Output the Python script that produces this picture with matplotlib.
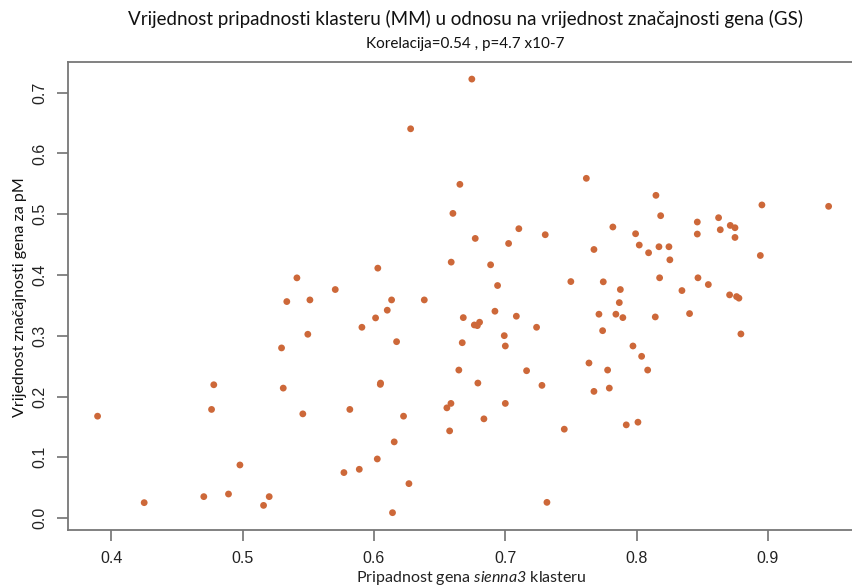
import matplotlib
matplotlib.use("Agg")
import matplotlib.pyplot as plt
import numpy as np

# module membership (MM) vs gene significance (GS), sienna3 module
mm = [0.5414, 0.5337, 0.5513, 0.5497, 0.5297, 0.4781, 0.5310, 0.4764, 0.3896, 0.5459,
      0.4980, 0.4251, 0.4705, 0.4893, 0.5203, 0.5160, 0.6746, 0.6280, 0.6655, 0.6602,
      0.7104, 0.7305, 0.6772, 0.7026, 0.6030, 0.6589, 0.6889, 0.6942, 0.5706, 0.6135,
      0.6384, 0.6102, 0.6681, 0.6922, 0.7085, 0.6013, 0.5909, 0.6765, 0.6788, 0.6805,
      0.6993, 0.7239, 0.6173, 0.6673, 0.7001, 0.6647, 0.7163, 0.6051, 0.6049, 0.6792,
      0.7280, 0.5817, 0.6226, 0.6556, 0.6587, 0.7001, 0.6838, 0.6577, 0.6155, 0.6026,
      0.5772, 0.5889, 0.6267, 0.6142, 0.7318, 0.7618, 0.8148, 0.8955, 0.9463, 0.8184,
      0.8463, 0.8625, 0.8714, 0.8750, 0.7820, 0.7993, 0.8463, 0.8638, 0.8750, 0.7676,
      0.8021, 0.8171, 0.8247, 0.8092, 0.8254, 0.8943, 0.7500, 0.7747, 0.8176, 0.8468,
      0.7877, 0.8346, 0.8547, 0.7869, 0.8709, 0.8762, 0.8780, 0.7714, 0.7843, 0.7896,
      0.8143, 0.8404, 0.7742, 0.8795, 0.7973, 0.8039, 0.7638, 0.7780, 0.8085, 0.7676,
      0.7793, 0.7450, 0.7922, 0.8011]
gs = [0.3953, 0.3563, 0.3590, 0.3025, 0.2800, 0.2194, 0.2139, 0.1788, 0.1677, 0.1715,
      0.0874, 0.0254, 0.0353, 0.0396, 0.0353, 0.0209, 0.7224, 0.6406, 0.5492, 0.5014,
      0.4762, 0.4663, 0.4602, 0.4519, 0.4113, 0.4212, 0.4168, 0.3827, 0.3761, 0.3590,
      0.3590, 0.3421, 0.3299, 0.3404, 0.3322, 0.3294, 0.3140, 0.3178, 0.3167, 0.3223,
      0.3002, 0.3140, 0.2903, 0.2886, 0.2832, 0.2436, 0.2425, 0.2222, 0.2200, 0.2222,
      0.2184, 0.1788, 0.1677, 0.1814, 0.1887, 0.1887, 0.1633, 0.1435, 0.1254, 0.0973,
      0.0749, 0.0803, 0.0567, 0.0089, 0.0259, 0.5591, 0.5311, 0.5153, 0.5130, 0.4976,
      0.4872, 0.4943, 0.4816, 0.4778, 0.4790, 0.4679, 0.4674, 0.4745, 0.4618, 0.4420,
      0.4493, 0.4465, 0.4465, 0.4366, 0.4250, 0.4321, 0.3892, 0.3888, 0.3954, 0.3954,
      0.3761, 0.3744, 0.3843, 0.3546, 0.3673, 0.3645, 0.3619, 0.3355, 0.3355, 0.3299,
      0.3310, 0.3365, 0.3084, 0.3030, 0.2832, 0.2662, 0.2552, 0.2436, 0.2436, 0.2085,
      0.2139, 0.1463, 0.1534, 0.1578]

xticks = [0.4, 0.5, 0.6, 0.7, 0.8, 0.9]
yticks = [0.0, 0.1, 0.2, 0.3, 0.4, 0.5, 0.6, 0.7]

plt.rcParams['mathtext.fontset'] = 'custom'
plt.rcParams['mathtext.it'] = 'Lato:italic'
plt.rcParams['mathtext.rm'] = 'Lato:italic'

fig = plt.figure(figsize=(8.53, 5.88), dpi=100)
# plot box runs just past the right edge like in the cropped original
ax = fig.add_axes([0.0801, 0.0986, 0.9256, 0.7964])

ax.scatter(mm, gs, s=24, c='#CD6839', edgecolors='none', zorder=3)

# R-style 4% padding
xr = max(mm) - min(mm)
yr = max(gs) - min(gs)
ax.set_xlim(min(mm) - 0.04 * xr, max(mm) + 0.04 * xr)
ax.set_ylim(min(gs) - 0.04 * yr, max(gs) + 0.04 * yr)

ax.set_xticks(xticks)
ax.set_yticks(yticks)
ax.set_xticklabels([f"{v:.1f}" for v in xticks], family='Liberation Sans', fontsize=11.5, color='#222222')
ax.set_yticklabels([f"{v:.1f}" for v in yticks], family='Liberation Sans', fontsize=11.5, color='#222222',
                   rotation=90, va='center')
ax.tick_params(direction='out', length=8, width=1.1, color='#666666', pad=7)
for sp in ax.spines.values():
    sp.set_color('#777777')
    sp.set_linewidth(1.3)
# right side of the box is cut off in the original
ax.spines['right'].set_visible(False)

fig.text(0.546, 0.967, "Vrijednost pripadnosti klasteru (MM) u odnosu na vrijednost značajnosti gena (GS)",
         ha='center', va='center', family='Lato', fontsize=13.5, color='#111111')
fig.text(0.546, 0.925, "Korelacija=0.54 , p=4.7 x10-7",
         ha='center', va='center', family='Lato', fontsize=11, color='#111111')
fig.text(0.553, 0.017, r"Pripadnost gena $sienna3$ klasteru",
         ha='center', va='center', family='Lato', fontsize=11.5, color='#222222')
fig.text(0.024, 0.495, "Vrijednost značajnosti gena za pM", rotation=90,
         ha='center', va='center', family='Lato', fontsize=11.5, color='#111111')

fig.savefig('out.png', dpi=100)
img = plt.imread('out.png')
print(img.shape, np.round(img[300, 835:853, :3].mean(axis=1), 2))
